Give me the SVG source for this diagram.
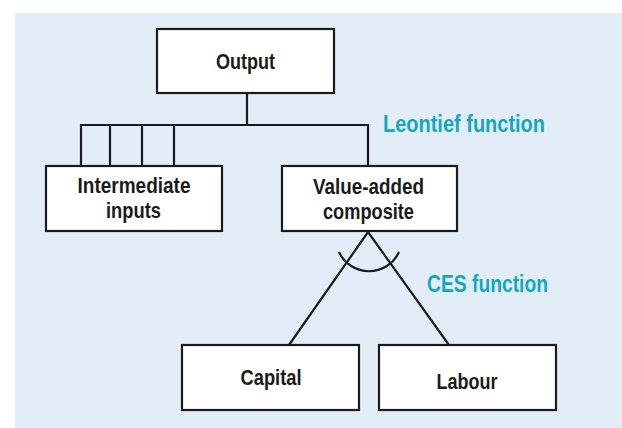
<svg xmlns="http://www.w3.org/2000/svg" width="622" height="428" viewBox="0 0 622 428">
  <style>
    .box { fill: #ffffff; stroke: #1a1a1a; stroke-width: 2.2; }
    .lbl { font-family: "Liberation Sans", Arial, sans-serif; font-weight: bold; font-size: 22px; fill: #1a1a1a; }
    .fn { font-family: "Liberation Sans", Arial, sans-serif; font-weight: bold; font-size: 23px; fill: #17a6c0; }
    .conn { fill: none; stroke: #1a1a1a; stroke-width: 2.2; }
  </style>
  <rect x="15" y="13" width="607" height="415" fill="#e2edf8"/>
  <g id="connectors">
    <path class="conn" d="M247,93 V125 M81,166 V125 H368 V166 M110,125 V166 M142,125 V166 M174,125 V166"/>
    <path class="conn" d="M289,345 L368,232 L449,345"/>
    <path class="conn" d="M339,252 A33,33 0 0 0 399,252"/>
  </g>
  <g id="output">
    <rect class="box" x="157" y="29" width="177" height="64"/>
    <text class="lbl" x="216" y="69" textLength="59" lengthAdjust="spacingAndGlyphs">Output</text>
  </g>
  <g id="intermediate">
    <rect class="box" x="46" y="166" width="176" height="65"/>
    <text class="lbl" x="77.5" y="193" textLength="113" lengthAdjust="spacingAndGlyphs">Intermediate</text>
    <text class="lbl" x="106" y="218" textLength="55" lengthAdjust="spacingAndGlyphs">inputs</text>
  </g>
  <g id="valueadded">
    <rect class="box" x="282" y="166" width="175" height="65"/>
    <text class="lbl" x="313" y="194" textLength="111" lengthAdjust="spacingAndGlyphs">Value-added</text>
    <text class="lbl" x="323" y="219" textLength="91" lengthAdjust="spacingAndGlyphs">composite</text>
  </g>
  <g id="capital">
    <rect class="box" x="182" y="345" width="177" height="65"/>
    <text class="lbl" x="240.5" y="385" textLength="61" lengthAdjust="spacingAndGlyphs">Capital</text>
  </g>
  <g id="labour">
    <rect class="box" x="379" y="345" width="177" height="65"/>
    <text class="lbl" x="436.5" y="389" textLength="61" lengthAdjust="spacingAndGlyphs">Labour</text>
  </g>
  <g id="labels">
    <text class="fn" x="383" y="132" textLength="162" lengthAdjust="spacingAndGlyphs">Leontief function</text>
    <text class="fn" x="427" y="292" textLength="121" lengthAdjust="spacingAndGlyphs">CES function</text>
  </g>
</svg>
